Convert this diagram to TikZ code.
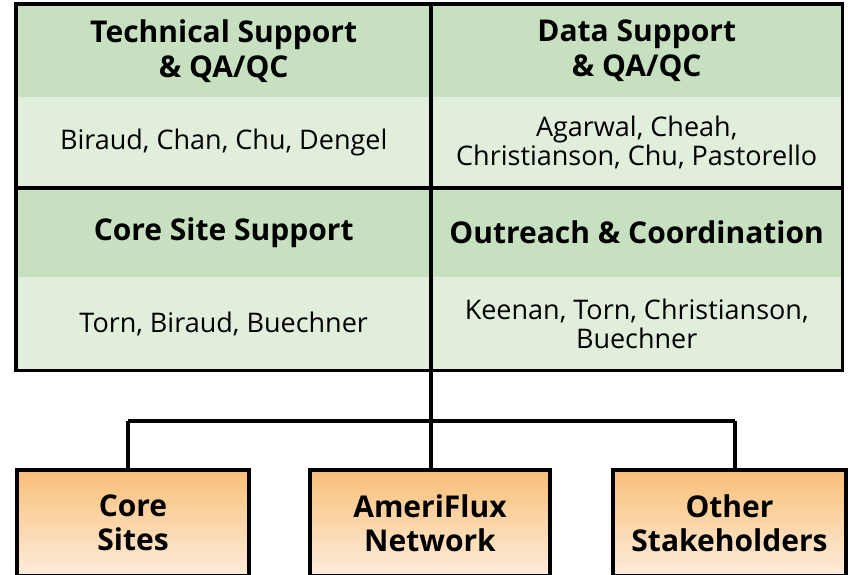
\documentclass[tikz,border=0pt]{standalone}
\usepackage{fontspec}
\setmainfont{Open Sans}
\usepackage{tikz}
\usetikzlibrary{calc, positioning}

\definecolor{headgreen}{HTML}{C6E0C0}
\definecolor{bodygreen}{HTML}{E2EEDC}
\definecolor{orangetop}{HTML}{F9BF78}
\definecolor{orangebot}{HTML}{FDEDDB}

\tikzset{
    cell/.style={inner sep=0pt, align=center, anchor=north west},
    head/.style={cell, fill=headgreen, minimum width=415pt,
        font=\bfseries\fontsize{30}{35}\selectfont},
    names/.style={cell, fill=bodygreen, minimum width=415pt,
        font=\fontsize{27}{29}\selectfont},
    rightcol/.style={minimum width=411pt},
    frame/.style={line width=3.5pt},
    site/.style={draw, line width=3.5pt, anchor=north, inner sep=0pt, align=center,
        minimum height=106pt, top color=orangetop, bottom color=orangebot,
        font=\bfseries\fontsize{30}{34}\selectfont},
}

\begin{document}
\begin{tikzpicture}[x=1pt, y=-1pt]
                    \clip (0, 0) rectangle (848, 574);

                    % top table: headers and names
                    \node [head, minimum height=93pt] (Ht) at (16, 4) {Technical Support\\\& QA/QC};
                    \node [head, rightcol, minimum height=93pt] (Hd) at (431, 4) {Data Support\\\& QA/QC};
                    \node [names, minimum height=91pt] (Nt) at (16, 97) {Biraud, Chan, Chu, Dengel};
                    \node [names, rightcol, minimum height=91pt] (Nd) at (431, 97) {Agarwal, Cheah,\\Christianson, Chu, Pastorello};
                    \node [head, minimum height=89pt] (Hc) at (16, 188) {Core Site Support};
                    \node [head, rightcol, minimum height=89pt] (Ho) at (431, 188) {Outreach \& Coordination};
                    \node [names, minimum height=93pt] (Nc) at (16, 277) {Torn, Biraud, Buechner};
                    \node [names, rightcol, minimum height=93pt] (No) at (431, 277) {Keenan, Torn, Christianson,\\Buechner};

                    \draw [frame] (Ht.north west) rectangle (No.south east);
                    \draw [frame] (Hd.north west) -- (No.south west);
                    \draw [frame] (Hc.north west) -- (Ho.north east);

                    % bottom boxes
                    \node [site, minimum width=232pt] (Sc) at (133, 468) {Core\\Sites};
                    \node [site, minimum width=240pt] (Sa) at (430, 468) {AmeriFlux\\Network};
                    \node [site, minimum width=233pt] (So) at (729.5, 468) {Other\\Stakeholders};

                    % connectors
                    \coordinate (hub) at (431, 421);
                    \coordinate (barL) at (128, 421);
                    \coordinate (barR) at (735, 421);
                    \draw [frame] (No.south west) -- (hub);
                    \draw [frame] (barL) -- (barR);
                    \draw [frame] (barL) -- (barL |- Sc.north);
                    \draw [frame] (hub) -- (hub |- Sa.north);
                    \draw [frame] (barR) -- (barR |- So.north);
            \end{tikzpicture}
\end{document}
